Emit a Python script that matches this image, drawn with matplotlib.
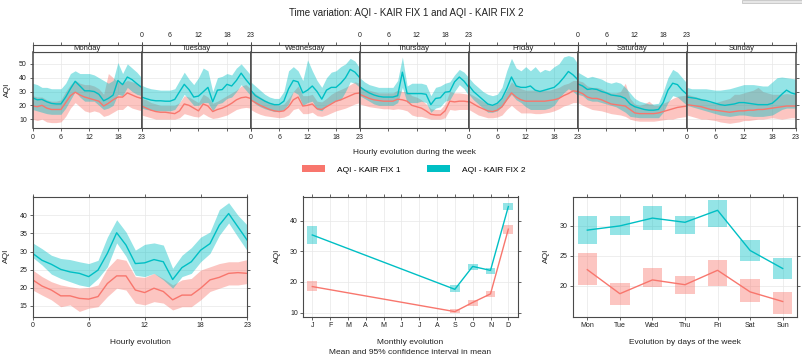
import numpy as np
import matplotlib
matplotlib.use("Agg")
import matplotlib.pyplot as plt
from matplotlib.patches import Rectangle, Patch

plt.rcParams['font.family'] = ['Liberation Sans', 'DejaVu Sans']

# ---- data -------------------------------------------------------------
series_names = ['AQI - KAIR FIX 1', 'AQI - KAIR FIX 2']
day_names = ['Monday', 'Tuesday', 'Wednesday', 'Thursday', 'Friday', 'Saturday', 'Sunday']
hour_ticks = [0, 6, 12, 18, 23]

# hourly means over the week, one row per day (Mon..Sun)
fix1_week_mean = [
    19.5, 19, 20, 18, 17, 17, 17, 22, 27, 29.5, 27.5, 26, 25, 24, 23, 19.5, 21.5, 24, 26, 26, 29, 27.5, 26, 25,
    19.5, 18, 16.5, 15.5, 15, 15, 14.5, 14, 16, 21, 20, 18, 16, 21, 19.5, 15.5, 17, 18, 19.5, 21.5, 24, 25.5, 26, 25,
    24, 22, 20, 18.5, 17, 16, 15.5, 16, 19, 24, 26, 19.5, 20, 21, 17.5, 17, 19, 21, 23, 24, 25.5, 27, 28.5, 29,
    28, 26.5, 25, 24, 23.5, 23, 23, 23, 24.5, 24, 23, 20, 19, 18, 16, 13.5, 13, 13, 16, 23, 22.5, 23, 23, 22.5,
    23, 21, 19, 17.5, 16, 15.5, 16.5, 19, 24, 29, 26, 24, 23, 23, 23, 23, 23, 23.5, 24, 25, 27, 28.5, 30.5, 30,
    30, 28.5, 26, 25, 25, 24, 22.5, 21, 20.5, 20, 19.5, 17, 14.5, 14, 14, 14, 14, 14.5, 15.5, 16.5, 17.5, 18.5, 19, 19.5,
    20.5, 20, 19.5, 19, 18, 17, 16.5, 16, 15.5, 15, 15.5, 16, 16, 16.5, 16.5, 17, 17, 17.5, 18, 18.5, 19, 19.5, 19.5, 19.5,
]
fix1_week_lo = [
    10, 9, 10, 8, 7.5, 7.5, 8, 12, 18, 22, 19, 16, 15, 16, 15, 12, 13, 15, 17, 17, 20, 18, 17, 16,
    13, 12, 11, 10, 10, 10, 10, 10, 11, 14, 13, 12, 11.5, 14, 12, 10.5, 11, 12, 13, 15, 17, 18, 18.5, 18,
    17, 15, 13.5, 12.5, 12, 11.5, 11, 11.5, 13, 17, 18, 14, 14, 15, 12.5, 12, 13, 14.5, 16, 17, 18, 19.5, 21, 22,
    21, 20, 19, 18.5, 18, 17.5, 17.5, 17, 17.5, 17, 16, 13, 12, 12, 11, 10, 10, 10, 11, 17, 16.5, 17, 17, 17,
    17, 15, 13, 12, 11, 11, 11.5, 13, 17, 20, 17, 14.5, 14.5, 14.5, 14, 14, 14.5, 15, 16, 17.5, 19.5, 20.5, 22, 22,
    22, 20, 18.5, 17, 16.5, 16, 15, 14, 13.5, 13, 12, 10, 9, 8.5, 8.5, 8.5, 8.5, 9, 9.5, 10, 10, 11, 11.5, 12,
    13, 12, 11, 10, 10, 9.5, 9, 8, 7.5, 7, 7.5, 8, 9, 9, 9.5, 10, 10, 10.5, 11, 10.5, 10, 10.5, 11, 11,
]
fix1_week_hi = [
    27, 26, 26, 24, 23, 23, 24, 30, 35, 38, 36, 35, 35, 34, 32, 28, 43, 40, 37, 36, 38, 37, 36, 34,
    25, 24, 22, 21, 20, 20, 20, 20, 22, 27, 26, 24, 22, 28, 26, 21.5, 23, 25, 27, 29, 31, 34, 35, 32,
    31, 28.5, 26, 24, 22, 21, 20, 21, 25, 30, 34, 27, 27, 28, 23, 22.5, 25, 28, 30, 31.5, 33, 35, 37, 36,
    34, 32, 31, 30, 29, 29, 29, 29, 31, 30, 30, 27, 26, 24, 21, 17.5, 17, 17, 21, 30, 29, 29, 28.5, 28,
    29, 27, 25, 23, 21, 20, 21.5, 25, 31, 37, 34, 32, 31, 31, 31, 31, 31, 31, 32, 33, 35, 36, 38, 38,
    38, 37, 34, 33, 33, 32, 30, 29, 29, 30, 36, 25, 21, 20, 21, 23, 20, 20, 21.5, 23, 25, 26.5, 27, 27.5,
    28, 27, 26, 25, 23, 22, 22, 23, 24, 25, 28, 28, 29, 30, 31, 33, 30, 29, 28, 28, 28, 28.5, 28, 28,
]
fix2_week_mean = [
    25.5, 24, 24.3, 22.6, 21.4, 21, 21, 26, 32, 37.4, 34, 30.5, 30.5, 30, 28, 23.3, 25, 27.4, 38, 35, 40.5, 38.6, 35.7, 33,
    26, 24.8, 23.8, 23.3, 23.3, 23, 23, 24.3, 29.8, 35.2, 31.4, 26, 26.7, 29.8, 33, 22.6, 31, 31.4, 35.2, 34, 38, 43.3, 38.6, 34.5,
    31, 27, 25, 23, 21.5, 20.5, 20.5, 23, 32, 38, 37, 29, 31, 34, 30, 24.5, 31, 33, 33, 36, 40, 46, 44, 40,
    33.5, 31, 29, 27.5, 26.5, 26, 26, 26, 27, 44, 28.5, 28.5, 28.5, 28.5, 28, 20.5, 25, 25.5, 29.5, 30, 37, 40.5, 37.5, 33,
    34.5, 30, 27, 24, 21, 20, 21.5, 25, 32, 40.5, 34, 33, 33, 34, 31, 30, 31, 32, 33, 36, 40, 44.5, 42, 38.5,
    35.5, 34, 31.5, 32, 31.5, 30, 29, 27.5, 27, 26.5, 25, 21, 19, 18, 17, 16.5, 16.5, 17, 22, 31, 36, 35, 31, 28,
    26, 25.5, 25, 24, 23.5, 22.5, 21.5, 20.5, 20, 20.5, 21, 22, 22, 21.5, 21, 20.5, 20.5, 20.5, 21.5, 24.5, 28, 31, 29, 28,
]
fix2_week_lo = [
    17, 16, 15, 14, 13.5, 13.5, 13.5, 18, 24, 30, 26, 23, 23, 23, 20, 17, 18, 20, 28, 27, 33, 30, 28, 27,
    18, 17, 16.5, 16, 16, 16, 16, 17, 22, 28, 24, 20, 20, 22, 22, 16, 21, 22, 25, 26, 30, 35, 31, 27,
    24, 21, 19, 17.5, 16.5, 15.5, 15.5, 17, 21, 30, 28, 20, 22, 23, 17, 16, 20, 22, 23, 24, 30, 37, 36, 33,
    27, 25, 23, 21, 20, 20, 20, 20, 22, 33, 22, 22, 22, 23, 22, 15, 18, 19, 23, 24, 30, 35, 32, 27,
    28, 24, 21, 18, 15, 15, 16, 19, 24, 28, 24, 22, 19, 17, 17, 17, 17, 18, 20, 25, 29, 32, 30, 27,
    28, 27, 24, 23, 23, 22, 21, 20, 19, 17, 15, 12, 11.5, 11, 11, 11, 11, 11, 15, 22, 27, 26, 23, 20,
    20, 19, 18, 17, 16, 15, 14, 13, 12.5, 12, 12.5, 13, 13, 12.5, 12, 12, 12, 12.5, 13, 15, 17, 18, 18, 18,
]
fix2_week_hi = [
    36, 35, 33, 33, 32, 32, 32, 36, 43, 45, 43, 43, 43, 42, 40, 38, 36, 38, 51, 43, 50, 47, 44, 40,
    34.5, 33, 32, 31.5, 31, 31, 31, 32, 38, 44, 39, 35, 40, 47, 45, 30, 40, 41, 43, 42, 47, 50, 46, 42,
    37, 34, 31, 28, 26, 25, 25, 30, 45, 48, 45, 38, 53, 45, 38, 33, 40, 44, 45, 48, 50, 54, 52, 47,
    40, 37, 35, 34, 33, 33, 33, 33, 38, 55, 34, 36, 36, 36, 35, 27, 33, 34, 36, 37, 42, 46, 44, 40,
    40, 36, 33, 30, 28, 27, 28, 33, 45, 54, 47, 45, 48, 45, 48, 44, 46, 45, 48, 50, 55, 56, 55, 50,
    44, 42, 40, 41, 40, 39, 37, 36, 37, 36, 33, 29, 25, 23, 22, 21, 21, 21.5, 30, 40, 46, 44, 40, 36,
    33, 32, 32, 32, 32, 31.5, 31, 31, 31.5, 32, 33, 34, 35, 35, 35, 34.5, 34, 34, 37, 40, 40.5, 40, 39.5, 39,
]

# hourly evolution (all days)
fix1_hour_mean = [22.2, 20.5, 19.4, 17.8, 17.8, 17.1, 16.9, 17.6, 21.2, 23.3, 23.3, 19.4, 18.7, 19.9, 19.0, 16.7, 18.0, 18.0, 19.9, 22.2, 22.9, 24.0, 24.2, 24.0]
fix1_hour_lo = [19.4, 18.0, 16.7, 14.8, 15.3, 13.5, 14.4, 14.8, 17.6, 19.9, 19.4, 15.8, 15.3, 16.2, 15.8, 13.9, 14.8, 14.8, 16.7, 19.0, 19.9, 20.8, 20.8, 21.2]
fix1_hour_hi = [24.9, 23.1, 21.7, 20.8, 20.3, 19.9, 20.1, 20.8, 25.4, 28.1, 27.6, 23.1, 22.9, 24.0, 22.6, 20.8, 22.2, 22.6, 24.9, 25.8, 26.7, 27.2, 27.2, 27.8]
fix2_hour_mean = [29.5, 27.6, 26.5, 25.1, 24.4, 24.0, 23.1, 24.9, 29.5, 35.2, 31.8, 26.7, 26.9, 27.8, 27.2, 22.3, 25.6, 27.2, 30.4, 32.2, 37.3, 40.5, 36.8, 33.1]
fix2_hour_lo = [28.4, 26.3, 23.8, 22.6, 21.7, 20.8, 20.3, 22.6, 25.8, 32.4, 28.7, 23.5, 23.1, 24.0, 22.2, 19.9, 23.1, 24.0, 27.2, 29.5, 34.5, 37.9, 34.0, 30.2]
fix2_hour_hi = [32.4, 30.8, 29.0, 28.1, 27.8, 27.2, 26.7, 27.6, 34.0, 38.8, 35.4, 30.4, 32.0, 32.4, 31.8, 25.4, 29.0, 31.1, 34.0, 35.4, 41.6, 43.5, 40.0, 37.3]

# monthly evolution
month_labels = ['J', 'F', 'M', 'A', 'M', 'J', 'J', 'A', 'S', 'O', 'N', 'D']
months = [1, 9, 10, 11, 12]
fix1_month_mean = [18.5, 10.3, 13.3, 16.1, 37.3]
fix1_month_lo = [16.9, 9.8, 12.3, 15.0, 35.7]
fix1_month_hi = [20.2, 11.1, 14.2, 16.9, 38.7]
fix2_month_mean = [35.4, 17.6, 25.1, 23.8, 44.7]
fix2_month_lo = [32.5, 16.6, 24.0, 22.7, 43.6]
fix2_month_hi = [38.4, 19.1, 26.0, 24.7, 46.0]

# evolution by weekday
weekday_labels = ['Mon', 'Tue', 'Wed', 'Thu', 'Fri', 'Sat', 'Sun']
fix1_wday_mean = [22.7, 18.7, 21.0, 20.2, 22.6, 19.0, 17.4]
fix1_wday_lo = [20.2, 16.9, 19.8, 18.6, 20.0, 17.3, 15.4]
fix1_wday_hi = [25.5, 20.5, 23.0, 21.6, 24.3, 21.2, 19.0]
fix2_wday_mean = [29.3, 30.0, 31.3, 30.6, 32.6, 25.9, 22.9]
fix2_wday_lo = [27.0, 28.5, 29.3, 28.7, 29.8, 24.2, 21.1]
fix2_wday_hi = [31.6, 31.6, 33.3, 31.6, 34.3, 27.6, 24.6]

# ---- styling ------------------------------------------------------------
W, H = 802, 359
RED = '#F8766D'
TEAL = '#00BFC4'
FRAME = '#4A4A4A'
GRID = '#E8E8E8'
TXT = '#222222'


def box(x0, y0, x1, y1):
    # pixel box (top-left origin) -> figure fraction
    return [x0 / W, 1 - y1 / H, (x1 - x0) / W, (y1 - y0) / H]


def frame(ax):
    for s in ax.spines.values():
        s.set_color(FRAME)
        s.set_linewidth(0.8)
    ax.tick_params(direction='out', length=2.5, width=0.6, colors=FRAME,
                   labelsize=5, pad=1.5, labelcolor=TXT)
    ax.grid(color=GRID, lw=0.5)
    ax.set_axisbelow(True)


def band(ax, x, lo, hi, mean, col):
    ax.fill_between(x, lo, hi, color=col, alpha=0.42, lw=0)
    ax.plot(x, mean, color=col, lw=1.0)


def boxes(ax, x, lo, hi, mean, col, width):
    for xi, l, h in zip(x, lo, hi):
        ax.add_patch(Rectangle((xi - width / 2, l), width, h - l, facecolor=col,
                               alpha=0.42, lw=0))
    ax.plot(x, mean, color=col, lw=1.0)


fig = plt.figure(figsize=(W / 100, H / 100), dpi=100)

fig.text(0.507, 1 - 13 / H, 'Time variation: AQI - KAIR FIX 1 and AQI - KAIR FIX 2',
         ha='center', va='center', fontsize=7, color=TXT)
fig.patches.append(Rectangle((742 / W, 1 - 3 / H), 60 / W, 3 / H, transform=fig.transFigure,
                             facecolor='#E6E6E6', edgecolor='#BBBBBB', lw=0.5))

# ---- week panel -----------------------------------------------------------
hours = np.arange(24)
left, right = 32.5, 796
dw = (right - left) / 7
for i, day in enumerate(day_names):
    x0 = left + i * dw
    ax = fig.add_axes(box(x0, 52, x0 + dw, 128))
    sl = slice(24 * i, 24 * i + 24)
    band(ax, hours, fix1_week_lo[sl], fix1_week_hi[sl], fix1_week_mean[sl], RED)
    band(ax, hours, fix2_week_lo[sl], fix2_week_hi[sl], fix2_week_mean[sl], TEAL)
    ax.set_xlim(0, 23)
    ax.set_ylim(3.6, 58.6)
    ax.set_xticks(hour_ticks)
    ax.set_yticks([10, 20, 30, 40, 50])
    frame(ax)
    ax.tick_params(axis='x', labelbottom=(i % 2 == 0))
    ax.tick_params(axis='y', left=(i == 0), labelleft=(i == 0), right=(i == 6))
    for s in ('left', 'right'):
        ax.spines[s].set_linewidth(1.1)

    strip = fig.add_axes(box(x0, 45, x0 + dw, 52))
    strip.set_xlim(0, 23)
    strip.set_yticks([])
    strip.set_xticks(hour_ticks)
    strip.xaxis.tick_top()
    frame(strip)
    strip.grid(False)
    strip.tick_params(axis='x', labeltop=(i % 2 == 1))
    strip.text(0.5, 0.45, day, transform=strip.transAxes, ha='center', va='center',
               fontsize=5.5, color=TXT)

fig.text(0.0095, 1 - 90 / H, 'AQI', rotation=90, ha='center', va='center', fontsize=6, color=TXT)
fig.text(414 / W, 1 - 153 / H, 'Hourly evolution during the week', ha='center', va='center',
         fontsize=6, color=TXT)

handles = [Patch(facecolor=RED, lw=0), Patch(facecolor=TEAL, lw=0)]
fig.legend(handles, series_names, loc='center', bbox_to_anchor=(413.5 / W, 1 - 169.5 / H),
           ncol=2, frameon=False, fontsize=6, handlelength=2.8, handleheight=0.8,
           handletextpad=1.4, columnspacing=3.2, borderpad=0)

# ---- hourly panel -----------------------------------------------------------
ax = fig.add_axes(box(32.7, 196.5, 247.3, 316.5))
band(ax, hours, fix1_hour_lo, fix1_hour_hi, fix1_hour_mean, RED)
band(ax, hours, fix2_hour_lo, fix2_hour_hi, fix2_hour_mean, TEAL)
ax.set_xlim(0, 23)
ax.set_ylim(12.1, 45.2)
ax.set_xticks(hour_ticks)
ax.set_yticks([15, 20, 25, 30, 35, 40])
frame(ax)
ax.tick_params(top=True, right=True)
fig.text(6 / W, 1 - 256 / H, 'AQI', rotation=90, ha='center', va='center', fontsize=6, color=TXT)
fig.text(140 / W, 1 - 342 / H, 'Hourly evolution', ha='center', va='center', fontsize=6, color=TXT)

# ---- monthly panel -------------------------------------------------------------
ax = fig.add_axes(box(303.3, 196.5, 518.3, 316.5))
boxes(ax, months, fix1_month_lo, fix1_month_hi, fix1_month_mean, RED, 0.55)
boxes(ax, months, fix2_month_lo, fix2_month_hi, fix2_month_mean, TEAL, 0.55)
ax.set_xlim(0.495, 12.56)
ax.set_ylim(8.7, 48)
ax.set_xticks(range(1, 13))
ax.set_xticklabels(month_labels)
ax.set_yticks([10, 20, 30, 40])
frame(ax)
ax.tick_params(top=True, right=True)
fig.text(277 / W, 1 - 256 / H, 'AQI', rotation=90, ha='center', va='center', fontsize=6, color=TXT)
fig.text(410 / W, 1 - 342 / H, 'Monthly evolution', ha='center', va='center', fontsize=6, color=TXT)
fig.text(410 / W, 1 - 353 / H, 'Mean and 95% confidence interval in mean', ha='center',
         va='center', fontsize=6, color=TXT)

# ---- weekday panel --------------------------------------------------------------
ax = fig.add_axes(box(573.3, 196.5, 796.7, 316.5))
days_x = np.arange(1, 8)
boxes(ax, days_x, fix1_wday_lo, fix1_wday_hi, fix1_wday_mean, RED, 0.6)
boxes(ax, days_x, fix2_wday_lo, fix2_wday_hi, fix2_wday_mean, TEAL, 0.6)
ax.set_xlim(0.57, 7.43)
ax.set_ylim(14.9, 34.9)
ax.set_xticks(days_x)
ax.set_xticklabels(weekday_labels)
ax.set_yticks([20, 25, 30])
frame(ax)
ax.tick_params(top=True, right=True)
fig.text(546 / W, 1 - 256 / H, 'AQI', rotation=90, ha='center', va='center', fontsize=6, color=TXT)
fig.text(685 / W, 1 - 342 / H, 'Evolution by days of the week', ha='center', va='center',
         fontsize=6, color=TXT)

fig.savefig('out.png', dpi=100, facecolor='white')
